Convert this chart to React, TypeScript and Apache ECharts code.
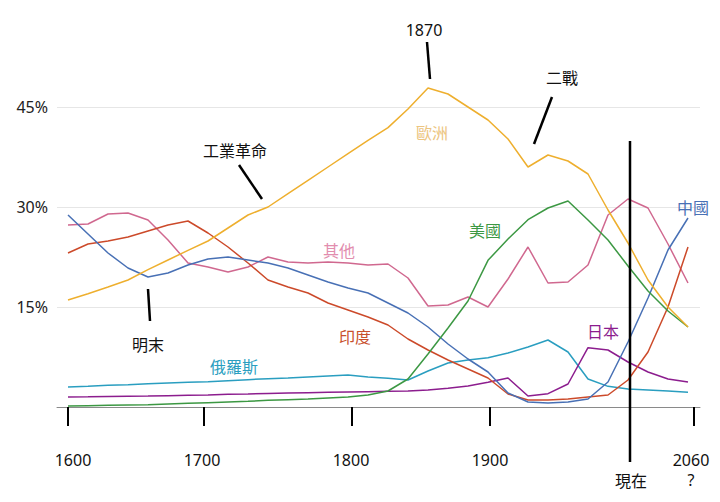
import React, { useEffect, useRef } from 'react';
import * as echarts from 'echarts';

// 32 equally spaced sample points (index along the time axis)
const pointIndex: number[] = Array.from({ length: 32 }, (_, i) => i);

const europe = [16.05, 17.0, 18.0, 19.05, 20.6, 22.05, 23.5, 24.9, 26.85, 28.8, 30.0, 32.0, 34.0, 36.0, 38.0, 40.0, 41.9, 44.7, 47.85, 46.95, 45.0, 43.05, 40.2, 36.0, 37.8, 36.9, 34.95, 29.55, 24.6, 19.05, 15.0, 12.0];
const china = [28.8, 25.95, 23.1, 20.85, 19.5, 20.1, 21.3, 22.2, 22.5, 22.05, 21.6, 20.85, 19.8, 18.75, 17.85, 17.1, 15.6, 14.1, 12.0, 9.45, 7.2, 5.25, 2.1, 0.75, 0.6, 0.75, 1.2, 3.75, 9.75, 16.35, 23.55, 28.35];
const india = [23.1, 24.45, 24.9, 25.5, 26.4, 27.3, 27.9, 26.1, 24.0, 21.6, 19.05, 18.0, 17.1, 15.6, 14.55, 13.5, 12.3, 10.2, 8.55, 7.05, 5.7, 4.35, 1.95, 1.05, 1.05, 1.2, 1.5, 1.8, 4.05, 8.25, 15.0, 24.0];
const others = [27.3, 27.45, 28.95, 29.1, 28.05, 25.05, 21.6, 21.0, 20.25, 21.0, 22.5, 21.75, 21.6, 21.75, 21.6, 21.3, 21.45, 19.35, 15.15, 15.3, 16.5, 15.0, 19.2, 24.0, 18.6, 18.75, 21.3, 28.8, 31.2, 29.85, 24.45, 18.6];
const usa = [0.15, 0.2, 0.25, 0.3, 0.35, 0.45, 0.55, 0.65, 0.75, 0.85, 1.0, 1.1, 1.2, 1.35, 1.5, 1.8, 2.4, 4.2, 7.95, 11.85, 15.9, 22.0, 25.2, 28.1, 29.85, 30.9, 28.05, 25.05, 21.15, 17.4, 14.4, 12.0];
const japan = [1.5, 1.53, 1.58, 1.62, 1.65, 1.7, 1.75, 1.8, 1.9, 1.95, 2.03, 2.1, 2.15, 2.2, 2.25, 2.3, 2.35, 2.4, 2.55, 2.8, 3.15, 3.7, 4.35, 1.65, 2.0, 3.45, 8.9, 8.55, 6.75, 5.25, 4.2, 3.75];
const russia = [3.0, 3.1, 3.25, 3.35, 3.5, 3.6, 3.7, 3.8, 3.95, 4.1, 4.25, 4.35, 4.5, 4.65, 4.8, 4.5, 4.3, 4.05, 5.4, 6.6, 7.05, 7.4, 8.1, 9.0, 10.05, 8.25, 4.2, 3.1, 2.7, 2.55, 2.4, 2.2];

// tick labels of the time axis and where they sit along the index axis
const tickYears = ['1600', '1700', '1800', '1900', '2060\n?'];
const tickPos = [0, 6.8, 14.2, 21.1, 31.3];
const labelPos = [0.25, 6.7, 14.15, 21.1, 31.15];
const nowPos = 28.1;

const yTicks = [0, 15, 30, 45];

const seriesDefs = [
  { name: '其他', data: others, color: '#D0688F' },
  { name: '俄羅斯', data: russia, color: '#2A9EC0' },
  { name: '日本', data: japan, color: '#8C1D8E' },
  { name: '印度', data: india, color: '#CC4A2A' },
  { name: '中國', data: china, color: '#4870B5' },
  { name: '美國', data: usa, color: '#3C9843' },
  { name: '歐洲', data: europe, color: '#EEAF2E' },
];

const CJK = '"Noto Sans CJK TC", "Noto Sans", sans-serif';
const LAT = '"Noto Sans", "Noto Sans CJK TC", sans-serif';

export default function App() {
  const ref = useRef<HTMLDivElement>(null);
  useEffect(() => {
    if (!ref.current) return;
    const chart = echarts.init(ref.current, null, { renderer: 'svg' });
    const fmt = (v: number) => {
      let best = 0;
      let d = Infinity;
      labelPos.forEach((p, i) => {
        const dd = Math.abs(p - v);
        if (dd < d) { d = dd; best = i; }
      });
      return tickYears[best];
    };
    chart.setOption({
      animation: false,
      grid: { left: 57, right: 20, top: 107, bottom: 95 },
      xAxis: [
        {
          type: 'value', min: -0.55, max: 31.6,
          axisLine: { show: true, onZero: false, lineStyle: { color: '#8a8a8a', width: 1 } },
          axisTick: { show: false }, axisLabel: { show: false }, splitLine: { show: false },
        },
        {
          type: 'value', min: -0.55, max: 31.6, position: 'bottom', offset: 11,
          axisLine: { show: false },
          axisTick: { show: true, customValues: tickPos, length: 19, lineStyle: { color: '#000', width: 2 } },
          axisLabel: {
            show: true, customValues: labelPos, formatter: fmt, margin: 32,
            fontSize: 16, lineHeight: 20, color: '#111', fontFamily: LAT,
            showMinLabel: true, showMaxLabel: true, hideOverlap: false,
          },
          splitLine: { show: false },
        },
      ],
      yAxis: {
        type: 'value', min: yTicks[0], max: yTicks[yTicks.length - 1], interval: 15,
        axisLine: { show: false }, axisTick: { show: false },
        axisLabel: { formatter: (v: number) => (v === 0 ? '' : v + '%'), fontSize: 16, color: '#222', margin: 9, fontFamily: LAT },
        splitLine: { lineStyle: { color: '#e6e6e6', width: 1 } },
      },
      series: seriesDefs.map((s) => ({
        name: s.name, type: 'line', xAxisIndex: 0, yAxisIndex: 0,
        data: s.data.map((v, i) => [pointIndex[i], v]),
        showSymbol: false, symbol: 'none', clip: false,
        lineStyle: { color: s.color, width: 1.5 }, itemStyle: { color: s.color },
      })),
    });

    const nowX = chart.convertToPixel({ xAxisIndex: 0 }, nowPos) as number;
    const txt = (text: string, x: number, y: number, fill: string, font = CJK, size = 16) => ({
      type: 'text', x, y, z: 100,
      style: { text, fill, font: `${size}px ${font}`, align: 'center', verticalAlign: 'middle' },
    });
    const ln = (x1: number, y1: number, x2: number, y2: number) => ({
      type: 'line', z: 100, shape: { x1, y1, x2, y2 }, style: { stroke: '#000', lineWidth: 2.5 },
    });
    chart.setOption({
      graphic: [
        ln(nowX, 141, nowX, 462),
        txt('現在', nowX + 1, 480, '#111'),
        txt('1870', 424, 30, '#111', LAT),
        ln(427, 42, 430, 79),
        txt('二戰', 562, 77, '#111'),
        ln(552, 97, 534, 144),
        txt('工業革命', 235, 150, '#111'),
        ln(239, 165, 262, 199),
        txt('明末', 148, 344, '#111'),
        ln(148, 289, 150, 321),
        txt('歐洲', 432, 132, '#ECC480'),
        txt('其他', 339, 250, '#E28DAE'),
        txt('美國', 485, 230, '#3C9843'),
        txt('印度', 355, 336, '#C8502C'),
        txt('日本', 603, 331, '#8C1D8E'),
        txt('中國', 693, 207, '#4870B5'),
        txt('俄羅斯', 234, 366, '#2A9EC0'),
      ],
    });
    return () => chart.dispose();
  }, []);
  return <div ref={ref} style={{ width: 720, height: 502, position: 'absolute', left: 0, top: 0 }} />;
}
